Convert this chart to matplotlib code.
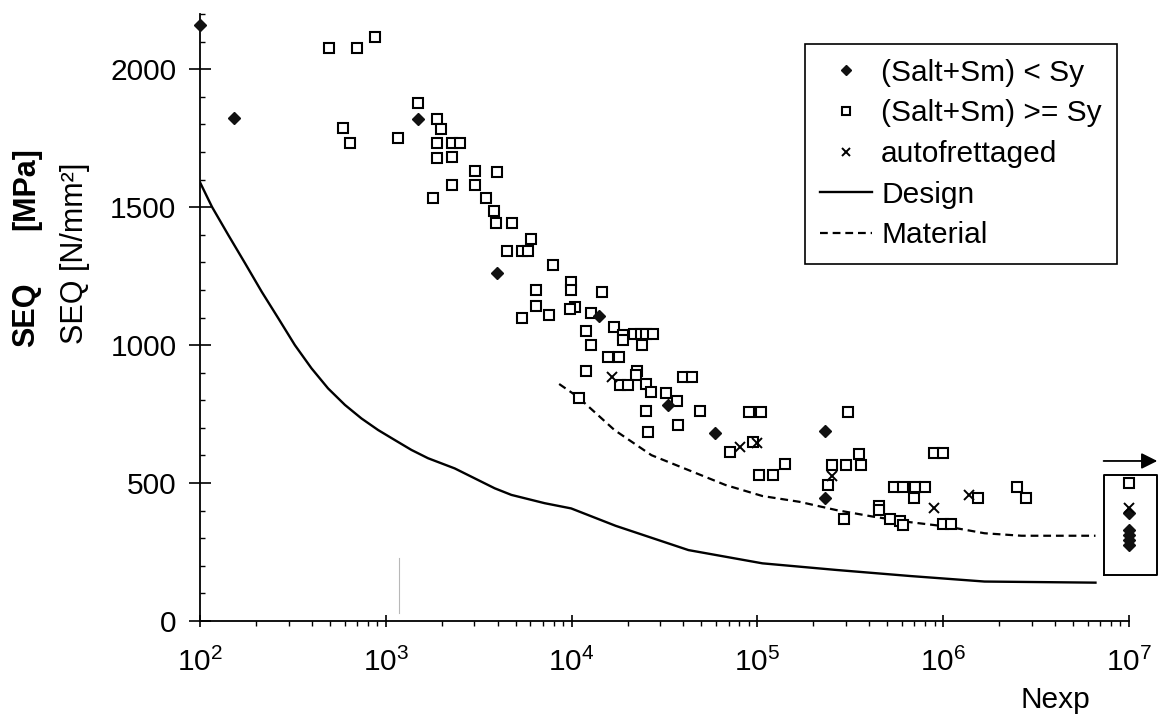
import numpy as np
import matplotlib
matplotlib.use("Agg")
import matplotlib.pyplot as plt

plt.rcParams['font.family'] = ['Liberation Sans', 'DejaVu Sans']

# (Salt+Sm) < Sy  -- filled diamonds (last five are the run-outs in the box at 1e7)
dia_n = [100, 152, 1494, 3980, 14000, 33000, 58800, 230000, 230000,
         1e7, 1e7, 1e7, 1e7, 1e7]
dia_s = [2160, 1822, 1819, 1262, 1106, 783, 681, 688, 447,
         391, 330, 312, 294, 276]

# (Salt+Sm) >= Sy  -- open squares
sq_n = [492, 700, 872, 590, 640, 1170,
        1494, 1897, 1990, 1897, 2265, 2510, 1897, 2265, 3020, 3950, 2265, 3020,
        1803, 3460, 3820, 3915, 4800, 6020, 4470, 5430, 5820, 7940, 9950, 9950,
        6400, 6400, 10400, 9800, 5430, 7550, 12770, 14500, 11900,
        16900, 18970, 18970, 21600, 23500, 25300, 27500, 24000, 12770, 15700, 18100,
        11900, 22500, 22100, 18200, 20100, 25000, 26900, 32400, 36700, 39900, 44500,
        49400, 25300, 37200, 25700, 71000, 90600, 104600, 94600, 11000,
        307000, 141600, 101700, 120800, 351000, 252000, 301000, 362000, 240000, 291000,
        887000, 995000, 546000, 604000, 706000, 800000, 698000, 1.53e6, 449000, 449000,
        515000, 587000, 604000, 995000, 1.1e6, 2.49e6, 2.78e6, 1e7]
sq_s = [2076, 2076, 2116, 1786, 1732, 1749,
        1876, 1819, 1783, 1731, 1731, 1731, 1679, 1682, 1630, 1628, 1579, 1579,
        1534, 1532, 1486, 1441, 1441, 1383, 1342, 1342, 1342, 1289, 1229, 1199,
        1199, 1141, 1139, 1129, 1097, 1109, 1115, 1193, 1052,
        1064, 1036, 1018, 1039, 1039, 1039, 1039, 1000, 1000, 958, 958,
        906, 906, 892, 855, 855, 858, 831, 825, 797, 883, 883,
        761, 761, 710, 684, 613, 756, 756, 650, 809,
        756, 569, 529, 529, 605, 565, 565, 565, 493, 368,
        610, 610, 487, 487, 487, 487, 445, 445, 416, 404,
        370, 362, 348, 352, 352, 487, 445, 499]

# autofrettaged -- crosses
x_n = [16500, 81000, 99000, 252000, 890000, 1.38e6, 1e7]
x_s = [884, 631, 645, 527, 409, 455, 408]

# curves
design_n = [100, 116, 142, 175, 215, 264, 324, 398, 489, 603, 740, 910, 1117,
            1374, 1687, 2350, 3855, 4743, 7160, 9950, 17260, 42560, 106400,
            266000, 665000, 1.67e6, 6.6e6]
design_s = [1590, 1501, 1399, 1296, 1193, 1097, 1000, 916, 843, 783, 734, 692, 656,
            620, 590, 553, 481, 457, 427, 408, 345, 257, 209,
            185, 163, 143, 139]
material_n = [8570, 10770, 17020, 26900, 42560, 67300, 106400, 168300, 266000,
              421700, 666800, 1.054e6, 1.67e6, 2.64e6, 6.6e6]
material_s = [859, 813, 692, 601, 547, 493, 453, 432, 402, 378, 358, 342, 318, 309, 309]

# run-out box and arrow beyond 1e7
box_n = [7.35e6, 1.41e7]
box_s = [167, 529]
arrow_n = [7.3e6, 1.42e7]
arrow_s = 580

fig = plt.figure(figsize=(11.68, 7.18), dpi=100)
ax = fig.add_axes([200 / 1168, 1 - 621 / 718, 929 / 1168, 607 / 718])
ax.set_xscale('log')
ax.set_xlim(100, 1e7)
ax.set_ylim(0, 2200)

ax.plot(design_n, design_s, color='black', lw=1.7, label='Design')
ax.plot(material_n, material_s, color='black', lw=1.6, dashes=(3.5, 2.2), label='Material')
ax.plot(dia_n, dia_s, ls='none', marker='D', ms=6.5, color='#111111', clip_on=False,
        label='(Salt+Sm) < Sy', zorder=4)
ax.plot(sq_n, sq_s, ls='none', marker='s', ms=7.4, mfc='white', mec='black', mew=1.5,
        clip_on=False, label='(Salt+Sm) >= Sy', zorder=3)
ax.plot(x_n, x_s, ls='none', marker='x', ms=7.5, mew=1.4, color='black', clip_on=False,
        label='autofrettaged', zorder=4)

# box around the run-outs and arrow above it
ax.plot([box_n[0], box_n[1], box_n[1], box_n[0], box_n[0]],
        [box_s[0], box_s[0], box_s[1], box_s[1], box_s[0]],
        color='black', lw=1.4, clip_on=False)
ax.annotate('', xy=(arrow_n[1], arrow_s), xytext=(arrow_n[0], arrow_s),
            annotation_clip=False,
            arrowprops=dict(arrowstyle='-|>', color='black', lw=1.3,
                            mutation_scale=24, shrinkA=0, shrinkB=0))

# faint scan mark
ax.plot([1179, 1179], [30, 228], color='#b8b8b8', lw=0.8)

for side in ['top', 'right']:
    ax.spines[side].set_visible(False)
for side in ['left', 'bottom']:
    ax.spines[side].set_linewidth(1.3)

ax.set_yticks([0, 500, 1000, 1500, 2000])
ax.set_yticks(np.arange(100, 2201, 100), minor=True)
ax.tick_params(axis='y', which='major', direction='inout', length=16, width=1.2,
               labelsize=21.5, pad=9)
ax.tick_params(axis='y', which='minor', direction='in', length=3.5, width=1.0)
ax.tick_params(axis='x', which='major', direction='inout', length=9, width=1.2,
               labelsize=21.5, pad=15)
ax.tick_params(axis='x', which='minor', direction='out', length=3.5, width=1.0)
ax.xaxis.set_minor_formatter(matplotlib.ticker.NullFormatter())

leg = ax.legend(handles=[ax.lines[2], ax.lines[3], ax.lines[4], ax.lines[0], ax.lines[1]],
                loc='upper left', bbox_to_anchor=(805 / 1168, 1 - 44 / 718),
                bbox_transform=fig.transFigure, fontsize=21.5, frameon=True,
                fancybox=False, edgecolor='black', framealpha=1, borderpad=0.5,
                handlelength=1.75, handletextpad=0.3, labelspacing=0.42,
                markerscale=0.72, borderaxespad=0)
leg.get_frame().set_linewidth(1.2)

fig.text(75 / 1168, 1 - 253 / 718, 'SEQ [N/mm²]', rotation=90, ha='center',
         va='center', fontsize=22)
fig.text(26 / 1168, 1 - 315 / 718, 'SEQ', rotation=90, ha='center', va='center',
         fontsize=22, fontweight='bold')
fig.text(26 / 1168, 1 - 189 / 718, '[MPa]', rotation=90, ha='center', va='center',
         fontsize=22, fontweight='bold')
fig.text(1090 / 1168, 1 - 708 / 718, 'Nexp', ha='right', va='baseline', fontsize=21.5)

fig.savefig('out.png', dpi=100)
